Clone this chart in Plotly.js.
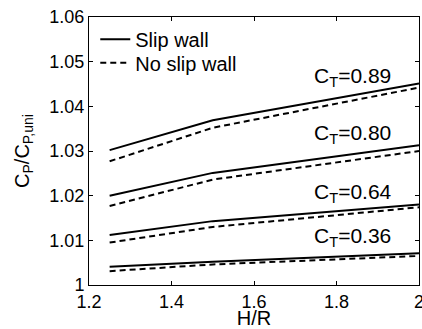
<!DOCTYPE html>
<html>
<head>
<meta charset="utf-8">
<script src="https://cdn.plot.ly/plotly-3.0.1.min.js"></script>
<style>html,body{margin:0;padding:0;background:#fff;}#chart{width:422px;height:329px;}</style>
</head>
<body>
<div id="chart"></div>
<script>
const hr = [1.25, 1.5, 2.0];
const ctLabels = ["0.89", "0.80", "0.64", "0.36"];
const slip089 = [1.0302, 1.0369, 1.0451];
const noslip089 = [1.0277, 1.0352, 1.0442];
const slip080 = [1.0200, 1.0251, 1.0313];
const noslip080 = [1.0177, 1.0236, 1.0300];
const slip064 = [1.0112, 1.0143, 1.0180];
const noslip064 = [1.0095, 1.0130, 1.0174];
const slip036 = [1.0041, 1.0052, 1.0071];
const noslip036 = [1.0031, 1.0046, 1.0065];
const labelX = [1.74, 1.74, 1.74, 1.74];
const labelY = [1.0466, 1.0338, 1.0205, 1.0108];

const slipSets = [slip089, slip080, slip064, slip036];
const noslipSets = [noslip089, noslip080, noslip064, noslip036];

const font = "Liberation Sans, Arial, Helvetica, sans-serif";
const traces = [];
slipSets.forEach((ys, i) => {
  traces.push({x: hr, y: ys, type: 'scatter', mode: 'lines',
    line: {color: '#000', width: 2, dash: 'solid'},
    name: 'Slip wall', showlegend: i === 0, legend: 'legend'});
});
noslipSets.forEach((ys, i) => {
  traces.push({x: hr, y: ys, type: 'scatter', mode: 'lines',
    line: {color: '#000', width: 2, dash: '6px,4px'},
    name: 'No slip wall', showlegend: i === 0, legend: 'legend2'});
});

const annotations = ctLabels.map((t, i) => ({
  x: labelX[i], y: labelY[i], xref: 'x', yref: 'y',
  text: 'C<sub>T</sub>=' + t, showarrow: false,
  xanchor: 'left', yanchor: 'middle',
  font: {family: font, size: 21, color: '#000'}
}));

const axisCommon = {
  showgrid: false, zeroline: false, showline: true, linecolor: '#000', linewidth: 1,
  mirror: 'ticks', ticks: 'inside', ticklen: 4, tickcolor: '#000',
  ticklabeloverflow: 'allow',
  tickfont: {family: font, size: 18, color: '#000'}
};

const legendCommon = {xanchor: 'left', yanchor: 'top', bgcolor: 'rgba(0,0,0,0)',
  borderwidth: 0, font: {family: font, size: 20, color: '#000'}};

const layout = {
  width: 422, height: 329,
  margin: {l: 89, r: 3, t: 17, b: 44},
  paper_bgcolor: '#fff', plot_bgcolor: '#fff',
  font: {family: font, size: 18, color: '#000'},
  xaxis: Object.assign({}, axisCommon, {
    range: [1.2, 2], tickvals: [1.2, 1.4, 1.6, 1.8, 2], ticktext: ['1.2', '1.4', '1.6', '1.8', '2'],
    title: {text: 'H/R', font: {family: font, size: 20, color: '#000'}, standoff: 2}
  }),
  yaxis: Object.assign({}, axisCommon, {
    range: [1, 1.06], tickvals: [1, 1.01, 1.02, 1.03, 1.04, 1.05, 1.06],
    ticktext: ['1', '1.01', '1.02', '1.03', '1.04', '1.05', '1.06'],
    title: {text: 'C<sub>P</sub>/C<sub>P,uni</sub>', font: {family: font, size: 20, color: '#000'}, standoff: 14}
  }),
  legend: Object.assign({}, legendCommon, {x: 0.019, y: 0.99}),
  legend2: Object.assign({}, legendCommon, {x: 0.019, y: 0.902}),
  annotations: annotations,
  showlegend: true
};

Plotly.newPlot('chart', traces, layout, {displayModeBar: false, staticPlot: true});
</script>
</body>
</html>
